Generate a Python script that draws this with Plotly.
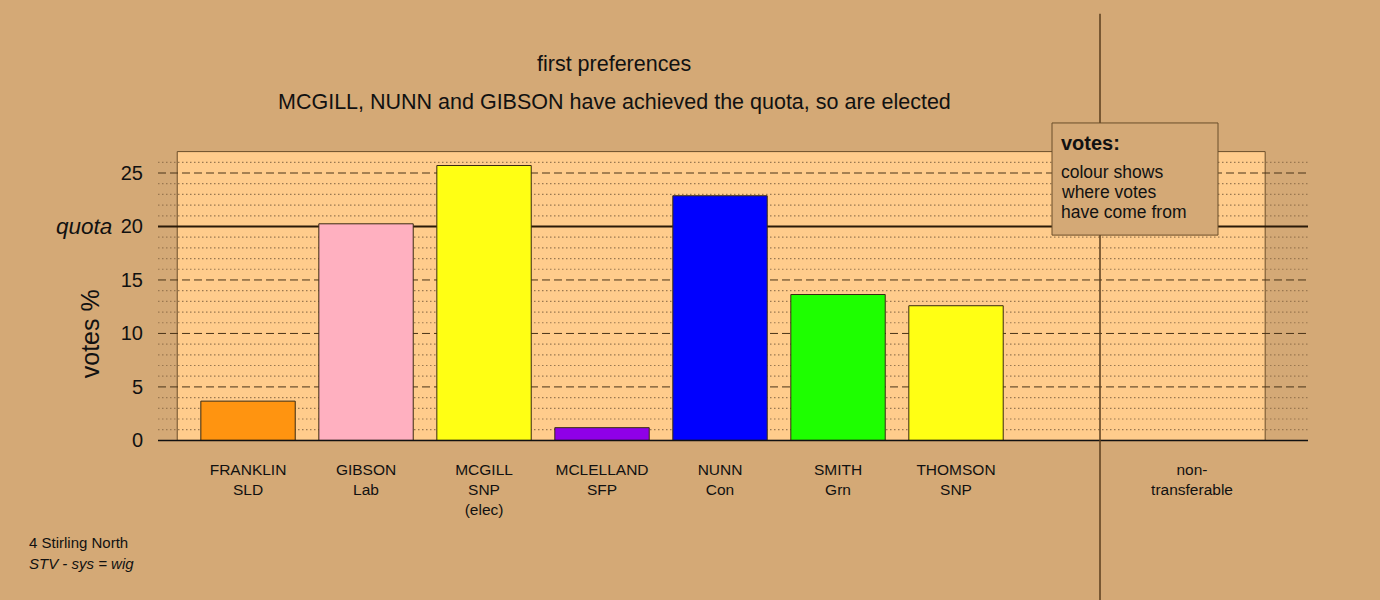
import plotly.graph_objects as go

# ---- data ----
candidates = ["FRANKLIN", "GIBSON", "MCGILL", "MCLELLAND", "NUNN", "SMITH", "THOMSON"]
parties = ["SLD", "Lab", "SNP", "SFP", "Con", "Grn", "SNP"]
status = ["", "", "(elec)", "", "", "", ""]
votes_pct = [3.67, 20.25, 25.70, 1.19, 22.87, 13.64, 12.59]
bar_colors = ["#FF9410", "#FFB0C0", "#FFFF14", "#8F00E8", "#0000FF", "#1EFF00", "#FFFF14"]
nontransferable_pct = [0.0]
nontransferable_label = "non-<br>transferable"
quota = 20
y_ticks = [0, 5, 10, 15, 20, 25]
title1 = "first preferences"
title2 = "MCGILL, NUNN and GIBSON have achieved the quota, so are elected"
constituency = "4 Stirling North"
system_note = "STV - sys = wig"
legend_lines = ["colour shows", "where votes", "have come from"]

# ---- styling / layout ----
BG = "#D4A976"
PANEL = "#FFCC8C"
FONT = "Liberation Sans, Arial, sans-serif"
W, H = 1380, 600
L, R = 158, 1308           # plot area pixel extents
T = 150
Y0PX = 440                  # pixel of y=0
YMIN, YMAX = -0.15, 27.15
ph = (Y0PX - T) * (YMAX - YMIN) / YMAX
B = H - T - ph

def px_x(p):
    return (p - L) / (R - L)

def px_y(p):
    return (T + ph - p) / ph

n = len(candidates)
xpos = list(range(n))
nt_pos = n + 1
tickvals = xpos + [nt_pos]
ticktext = []
for c, p, s in zip(candidates, parties, status):
    t = f"{c}<br>{p}"
    if s:
        t += f"<br>{s}"
    ticktext.append(t)
ticktext.append(nontransferable_label)

fig = go.Figure()
fig.add_trace(go.Bar(
    x=xpos, y=votes_pct, width=0.8,
    marker=dict(color=bar_colors, line=dict(color="#3A2A10", width=1)),
    hoverinfo="skip", showlegend=False,
))
fig.add_trace(go.Bar(
    x=[nt_pos], y=nontransferable_pct, width=0.8,
    marker=dict(color="#888888", line=dict(color="#3A2A10", width=0)),
    hoverinfo="skip", showlegend=False,
))

XMIN, XMAX = -0.763, 8.983
shapes = []
# panel
shapes.append(dict(type="rect", xref="x", yref="y", x0=-0.6, x1=8.62, y0=0, y1=27,
                   fillcolor=PANEL, line=dict(color="#6B4E2A", width=1), layer="below"))
# grid lines
for v in range(1, 27):
    if v == quota:
        continue
    if v % 5 == 0:
        shapes.append(dict(type="line", xref="x", yref="y", x0=XMIN, x1=XMAX, y0=v, y1=v,
                           line=dict(color="#4A3418", width=1, dash="8px,4px"), layer="below"))
    else:
        shapes.append(dict(type="line", xref="x", yref="y", x0=XMIN, x1=XMAX, y0=v, y1=v,
                           line=dict(color="#9A7850", width=1.2, dash="1.5px,2.5px"), layer="below"))
# quota line
shapes.append(dict(type="line", xref="x", yref="y", x0=XMIN, x1=XMAX, y0=quota, y1=quota,
                   line=dict(color="#2A1A08", width=2), layer="below"))
# zero axis line
shapes.append(dict(type="line", xref="x", yref="y", x0=XMIN, x1=XMAX, y0=0, y1=0,
                   line=dict(color="#111111", width=1.5), layer="above"))
# vertical separator
shapes.append(dict(type="line", xref="paper", yref="paper", x0=px_x(1100), x1=px_x(1100),
                   y0=px_y(14), y1=px_y(600), line=dict(color="#5A3E1E", width=1.5), layer="above"))
# legend box
shapes.append(dict(type="rect", xref="paper", yref="paper", x0=px_x(1052), x1=px_x(1218),
                   y0=px_y(235), y1=px_y(123), fillcolor=BG,
                   line=dict(color="#6B4E2A", width=1), layer="above"))

ann = []
ann.append(dict(text=title1, x=px_x(614), y=px_y(64), xref="paper", yref="paper",
                showarrow=False, xanchor="center", yanchor="middle",
                font=dict(size=21.5, color="#111111", family=FONT)))
ann.append(dict(text=title2, x=px_x(614), y=px_y(102), xref="paper", yref="paper",
                showarrow=False, xanchor="center", yanchor="middle",
                font=dict(size=21.5, color="#111111", family=FONT)))
ann.append(dict(text="<i>quota</i>", x=px_x(114), y=quota, xref="paper", yref="y",
                showarrow=False, xanchor="right", yanchor="middle",
                font=dict(size=22.5, color="#111111", family=FONT)))
ann.append(dict(text="votes %", x=px_x(90), y=px_y(334), xref="paper", yref="paper",
                showarrow=False, xanchor="center", yanchor="middle", textangle=-90,
                font=dict(size=25, color="#111111", family=FONT)))
ann.append(dict(text="<b>votes:</b>", x=px_x(1059), y=px_y(143), xref="paper", yref="paper",
                showarrow=False, xanchor="left", yanchor="middle",
                font=dict(size=20, color="#111111", family=FONT)))
for i, line in enumerate(legend_lines):
    ann.append(dict(text=line, x=px_x(1059), y=px_y(172 + 20 * i), xref="paper", yref="paper",
                    showarrow=False, xanchor="left", yanchor="middle",
                    font=dict(size=17.5, color="#111111", family=FONT)))
ann.append(dict(text=constituency, x=px_x(27), y=px_y(542), xref="paper", yref="paper",
                showarrow=False, xanchor="left", yanchor="middle",
                font=dict(size=15, color="#111111", family=FONT)))
ann.append(dict(text=f"<i>{system_note}</i>", x=px_x(27), y=px_y(563), xref="paper", yref="paper",
                showarrow=False, xanchor="left", yanchor="middle",
                font=dict(size=15, color="#111111", family=FONT)))

fig.update_layout(
    width=W, height=H,
    margin=dict(l=L, r=W - R, t=T, b=B, pad=0),
    paper_bgcolor=BG, plot_bgcolor=BG,
    barmode="overlay",
    shapes=shapes, annotations=ann,
    font=dict(family=FONT, color="#111111"),
    xaxis=dict(range=[XMIN, XMAX], showgrid=False, zeroline=False, showline=False,
               tickvals=tickvals, ticktext=ticktext, ticks="",
               tickfont=dict(size=15.5, color="#111111", family=FONT),
               ticklabelstandoff=16, fixedrange=True),
    yaxis=dict(range=[YMIN, YMAX], showgrid=False, zeroline=False, showline=False,
               tickvals=y_ticks, ticktext=[str(v) for v in y_ticks], ticks="",
               tickfont=dict(size=20, color="#111111", family=FONT),
               ticklabelstandoff=14, fixedrange=True),
)

fig.write_html("out.html", config={"displayModeBar": False},
               post_script="document.body.style.margin='0';document.body.style.overflow='hidden';")
